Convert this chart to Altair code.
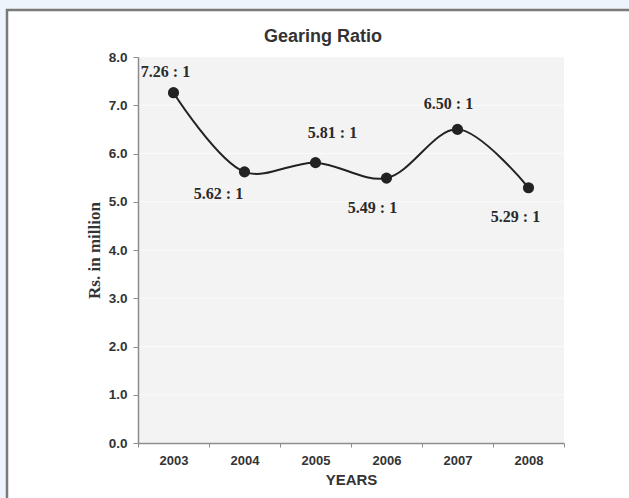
import altair as alt
import pandas as pd

years = ["2003", "2004", "2005", "2006", "2007", "2008"]
values = [7.26, 5.62, 5.81, 5.49, 6.50, 5.29]
labels = ["7.26 : 1", "5.62 : 1", "5.81 : 1", "5.49 : 1", "6.50 : 1", "5.29 : 1"]
y_ticks = [0, 1, 2, 3, 4, 5, 6, 7, 8]

# label offsets (pixels) relative to each point
label_dx = [-8, -26, 17, -14, -9, -13]
label_dy = [-21, 22, -30, 30, -25, 29]

W, H = 426, 386

df = pd.DataFrame({"year": years, "value": values, "label": labels})
grid_df = pd.DataFrame({"value": y_ticks})
one = pd.DataFrame({"a": [0]})

xenc = alt.X("year:O", scale=alt.Scale(type="band", paddingInner=0, paddingOuter=0, domain=years),
             axis=alt.Axis(title="YEARS", labelAngle=0, tickBand="extent", tickSize=4,
                           labelPadding=7, titlePadding=5, titleFontSize=15,
                           labelFontSize=13, grid=False, zindex=2))
yscale = alt.Scale(domain=[0, 8], nice=False, zero=True)
yaxis = alt.Axis(title="Rs. in million", values=y_ticks, format=".1f",
                 tickSize=5, labelPadding=6, titlePadding=5, grid=False, zindex=2,
                 titleFont="Liberation Serif", titleFontSize=17, labelFontSize=13.5)
yenc = alt.Y("value:Q", scale=yscale, axis=yaxis)

frame = alt.Chart(one).mark_rect(fill="white", stroke="#7a7a7a", strokeWidth=2.5).encode(
    x=alt.value(-131), x2=alt.value(520), y=alt.value(-47), y2=alt.value(470))
plotbg = alt.Chart(one).mark_rect(fill="#f3f3f3").encode(
    x=alt.value(0), x2=alt.value(W), y=alt.value(0), y2=alt.value(H))
grid = alt.Chart(grid_df).mark_rule(color="#fbfbfb", strokeWidth=1).encode(
    y=yenc, x=alt.value(0), x2=alt.value(W))

line = alt.Chart(df).mark_line(color="#222222", strokeWidth=2, interpolate="catmull-rom").encode(
    x=xenc, y=yenc)
pts = alt.Chart(df).mark_circle(color="#222222", opacity=1, size=125).encode(x=xenc, y=yenc)

texts = []
for i in range(len(years)):
    texts.append(
        alt.Chart(df.iloc[[i]]).mark_text(font="Liberation Serif", fontWeight="bold", fontSize=16,
                                          color="#2a2a2a", dx=label_dx[i], dy=label_dy[i]).encode(
            x=xenc, y=yenc, text="label:N")
    )

chart = alt.layer(frame, plotbg, grid, line, pts, *texts).properties(
    width=W, height=H,
    autosize=alt.AutoSizeParams(type="none"),
    padding={"left": 138, "top": 57, "right": 65, "bottom": 55},
    background="#eef4fb",
    title=alt.TitleParams("Gearing Ratio", anchor="middle", frame="group", dx=-28, dy=51,
                          font="Liberation Sans", fontSize=18, fontWeight="bold", color="#333333",
                          offset=14),
).configure_view(stroke=None, fill=None).configure_axis(
    domainColor="#8c8c8c", domainWidth=1.5, tickColor="#8c8c8c",
    labelFont="Liberation Sans", labelFontWeight="bold", labelColor="#333333",
    titleFont="Liberation Sans", titleFontWeight="bold", titleColor="#333333",
)

chart.save("out.html", embed_options={"renderer": "svg", "actions": False})
